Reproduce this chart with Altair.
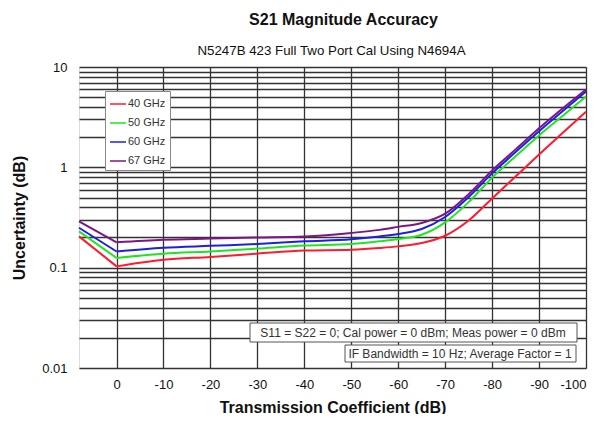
import altair as alt
import pandas as pd

# ---- data ----
x_db = [8, 0, -10, -20, -30, -40, -50, -56, -60, -65, -70, -75, -80, -85, -90, -95, -100]
ghz40 = [0.205, 0.103, 0.120, 0.128, 0.138, 0.148, 0.151, 0.157, 0.163, 0.176, 0.208, 0.295, 0.49, 0.81, 1.34, 2.20, 3.59]
ghz50 = [0.230, 0.125, 0.138, 0.145, 0.155, 0.166, 0.172, 0.183, 0.193, 0.213, 0.283, 0.45, 0.79, 1.29, 2.08, 3.25, 5.07]
ghz60 = [0.250, 0.145, 0.158, 0.165, 0.172, 0.183, 0.192, 0.205, 0.217, 0.243, 0.320, 0.505, 0.87, 1.42, 2.29, 3.62, 5.70]
ghz67 = [0.290, 0.179, 0.190, 0.195, 0.200, 0.205, 0.222, 0.238, 0.255, 0.279, 0.345, 0.54, 0.93, 1.51, 2.45, 3.85, 5.96]
series_names = ["40 GHz", "50 GHz", "60 GHz", "67 GHz"]
series_colors = ["#ff1a2e", "#1ee61e", "#1f1fe0", "#7d1585"]
x_ticks = [0, -10, -20, -30, -40, -50, -60, -70, -80, -90, -100]
y_grid = [round(m * 10.0 ** e, 4) for e in (-2, -1, 0) for m in range(1, 10)] + [10.0]
note1 = "S11 = S22 = 0; Cal power = 0 dBm; Meas power = 0 dBm"
note2 = "IF Bandwidth = 10 Hz; Average Factor = 1"
title_text = "S21 Magnitude Accuracy"
subtitle_text = "N5247B 423 Full Two Port Cal Using N4694A"

rows = []
for name, vals in zip(series_names, [ghz40, ghz50, ghz60, ghz67]):
    for xv, yv in zip(x_db, vals):
        rows.append({"x": xv, "y": yv, "series": name})
df = pd.DataFrame(rows)

FONT = "Liberation Sans"
W, H = 507, 301

x_enc = alt.X("x:Q",
              scale=alt.Scale(domain=[8, -100], nice=False, zero=False),
              axis=alt.Axis(values=x_ticks, title="Transmission Coefficient (dB)",
                            labelExpr="'' + datum.value",
                            ticks=False, labelPadding=10, labelFontSize=13,
                            labelFont=FONT, titleFont=FONT, titleFontSize=16,
                            titleFontWeight="bold", titlePadding=8,
                            grid=True, gridColor="#333", gridWidth=1.3, gridOpacity=1,
                            domain=False, labelColor="#111", titleColor="#111"))
y_enc = alt.Y("y:Q",
              scale=alt.Scale(type="log", domain=[0.01, 10], nice=False),
              axis=alt.Axis(values=y_grid, title="Uncertainty (dB)",
                            labelExpr="datum.value == 10 ? '10' : datum.value == 1 ? '1' : datum.value == 0.1 ? '0.1' : datum.value == 0.01 ? '0.01' : ''",
                            labelOverlap=False, ticks=False, labelPadding=12,
                            labelFontSize=13, labelFont=FONT, titleFont=FONT,
                            titleFontSize=16, titleFontWeight="bold", titlePadding=14,
                            grid=True, gridColor="#333", gridWidth=1.3, gridOpacity=1,
                            domain=False, labelColor="#111", titleColor="#111"))
color_enc = alt.Color("series:N",
                      scale=alt.Scale(domain=series_names, range=series_colors),
                      legend=alt.Legend(title=None, orient="none", legendX=26, legendY=24,
                                        fillColor="white", strokeColor="#888",
                                        padding=4, symbolType="stroke", symbolSize=256,
                                        symbolStrokeWidth=1.5, labelFont=FONT,
                                        labelFontSize=11, labelOffset=1, rowPadding=5,
                                        labelColor="#333"))

base = alt.Chart(df)
# left arm of the V (sharp corner at 0 dB), then the smooth part
left_arm = base.transform_filter("datum.x >= 0").mark_line(strokeWidth=2).encode(
    x=x_enc, y=y_enc, color=color_enc)
right_part = base.transform_filter("datum.x <= 0").mark_line(
    strokeWidth=2, interpolate="monotone").encode(x=x_enc, y=y_enc, color=color_enc)

box1 = alt.Chart(pd.DataFrame({"t": [note1]})).mark_rect(
    fill="white", stroke="#555", strokeWidth=1).encode(
    x=alt.value(171), x2=alt.value(498), y=alt.value(256), y2=alt.value(275))
text1 = alt.Chart(pd.DataFrame({"t": [note1]})).mark_text(
    font=FONT, fontSize=12, color="#333").encode(
    text="t:N", x=alt.value(334), y=alt.value(266))
box2 = alt.Chart(pd.DataFrame({"t": [note2]})).mark_rect(
    fill="white", stroke="#555", strokeWidth=1).encode(
    x=alt.value(266), x2=alt.value(497), y=alt.value(278), y2=alt.value(295))
text2 = alt.Chart(pd.DataFrame({"t": [note2]})).mark_text(
    font=FONT, fontSize=12, color="#333").encode(
    text="t:N", x=alt.value(381), y=alt.value(287))
subtitle = alt.Chart(pd.DataFrame({"t": [subtitle_text]})).mark_text(
    font=FONT, fontSize=13.3, color="#111").encode(
    text="t:N", x=alt.value(W / 2 - 1), y=alt.value(-16))

chart = alt.layer(left_arm, right_part, box1, text1, box2, text2, subtitle).properties(
    width=W, height=H,
    title=alt.TitleParams(title_text, font=FONT, fontSize=16,
                          fontWeight="bold", anchor="middle", dx=11, offset=16,
                          color="#111"),
    autosize=alt.AutoSizeParams(type="none"),
    padding={"left": 71, "top": 59, "right": 8, "bottom": 46},
).configure_view(stroke="#333", strokeWidth=1.5).configure(background="white")

chart.save("out.html", embed_options={"renderer": "svg", "actions": False})
